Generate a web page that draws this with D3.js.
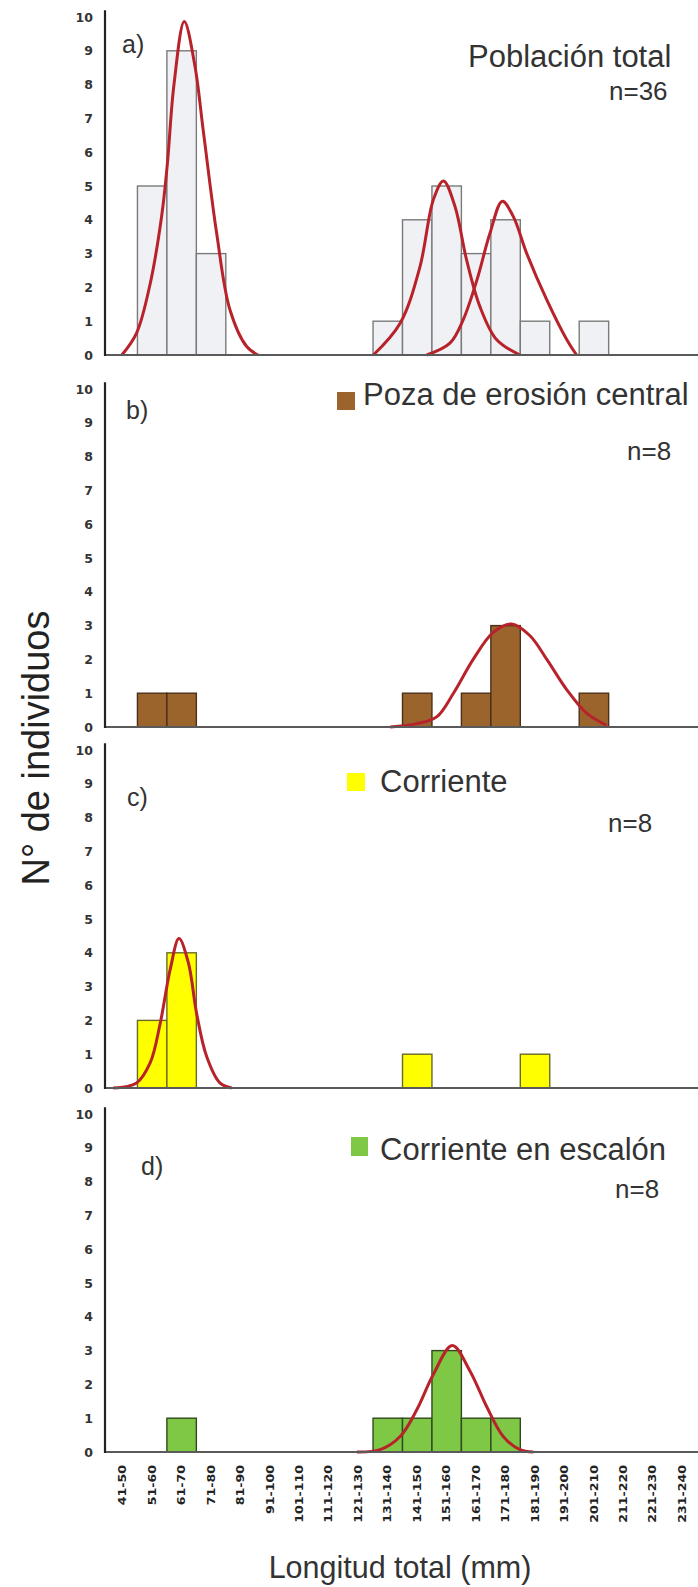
<!DOCTYPE html>
<html>
<head>
<meta charset="utf-8">
<script src="https://cdn.jsdelivr.net/npm/d3@7"></script>
<style>
  html, body { margin: 0; padding: 0; background: #fff; }
  svg { display: block; }
  text { font-family: "Liberation Sans", Arial, sans-serif; }
  .tick text { font-family: "DejaVu Sans", sans-serif; font-weight: bold; }
</style>
</head>
<body>
<svg id="chart" width="698" height="1587"></svg>
<script>
'use strict';

// size classes (mm)
const bins = ['41-50', '51-60', '61-70', '71-80', '81-90', '91-100', '101-110', '111-120',
    '121-130', '131-140', '141-150', '151-160', '161-170', '171-180', '181-190', '191-200',
    '201-210', '211-220', '221-230', '231-240'];

const totalCounts     = [0, 5, 9, 3, 0, 0, 0, 0, 0, 1, 4, 5, 3, 4, 1, 0, 1, 0, 0, 0];
const pozaCounts      = [0, 1, 1, 0, 0, 0, 0, 0, 0, 0, 1, 0, 1, 3, 0, 0, 1, 0, 0, 0];
const corrienteCounts = [0, 2, 4, 0, 0, 0, 0, 0, 0, 0, 1, 0, 0, 0, 1, 0, 0, 0, 0, 0];
const escalonCounts   = [0, 0, 1, 0, 0, 0, 0, 0, 0, 1, 1, 3, 1, 1, 0, 0, 0, 0, 0, 0];

// fitted curves: [length mm, individuals]
const totalCurve1 = [[45.2, 0], [50.2, 0.65], [54.8, 2.1], [58.7, 4.1], [60.6, 5.6], [62.9, 8.0],
    [66.4, 9.87], [70.0, 8.56], [72.9, 6.6], [77.4, 3.6], [81.9, 1.34], [87.6, 0.25], [91.5, 0]];
const totalCurve2 = [[130.6, 0], [139.7, 0.94], [146.4, 2.6], [151.0, 4.6], [154.4, 5.15],
    [158.3, 4.4], [162.3, 2.8], [166.8, 1.43], [172.5, 0.45], [180.4, 0]];
const totalCurve3 = [[148.7, 0], [156.6, 0.35], [161.1, 1.04], [165.7, 2.2], [170.2, 3.6],
    [174.4, 4.55], [178.1, 4.1], [182.7, 3.0], [189.5, 1.63], [196.3, 0.45], [199.6, 0]];
const pozaCurve = [[136.3, 0], [145.3, 0.1], [152.1, 0.3], [157.8, 1.0], [164.5, 2.0], [171.3, 2.8],
    [177.6, 3.05], [183.8, 2.7], [189.5, 2.0], [196.3, 1.1], [203.1, 0.4], [209.8, 0.05]];
const corrienteCurve = [[42.3, 0], [50.2, 0.15], [54.8, 0.74], [58.2, 1.9], [61.6, 3.5], [64.6, 4.42],
    [67.8, 3.7], [70.6, 2.2], [74.0, 0.93], [78.5, 0.15], [82.5, 0]];
const escalonCurve = [[125.0, 0], [132.9, 0.07], [139.7, 0.46], [145.3, 1.24], [151.0, 2.3],
    [157.4, 3.15], [163.4, 2.4], [169.1, 1.34], [174.7, 0.46], [180.4, 0.07], [184.9, 0]];

const panelTags = ['a)', 'b)', 'c)', 'd)'];
const panelNames = ['Población total', 'Poza de erosión central', 'Corriente', 'Corriente en escalón'];
const panelN = ['n=36', 'n=8', 'n=8', 'n=8'];

const AXIS_X = 105;
const UNIT = 33.8;

const panels = [
    {counts: totalCounts, curves: [totalCurve1, totalCurve2, totalCurve3], base: 355,
        fill: '#f0f1f4', stroke: '#7a7a7a', swatch: null,
        tag: [122, 53], name: [468, 67], n: [609, 100]},
    {counts: pozaCounts, curves: [pozaCurve], base: 727,
        fill: '#9b642c', stroke: '#4a3018', swatch: [337, 392, 18, 18],
        tag: [126, 419], name: [363, 405], n: [627, 460]},
    {counts: corrienteCounts, curves: [corrienteCurve], base: 1088,
        fill: '#ffff00', stroke: '#6a6a28', swatch: [347, 773, 18, 18],
        tag: [127, 806], name: [380, 792], n: [608, 832]},
    {counts: escalonCounts, curves: [escalonCurve], base: 1452,
        fill: '#7ec846', stroke: '#2e4a1e', swatch: [351, 1137, 17, 19],
        tag: [141, 1175], name: [380, 1160], n: [615, 1198]}
];

const svg = d3.select('#chart');

const x = d3.scaleBand()
    .domain(bins)
    .range([108, 697])
    .padding(0);

const xmm = d3.scaleLinear()
    .domain([40.5, 240.5])
    .range([108, 697]);

panels.forEach(function(p, i) {
    const y = d3.scaleLinear()
        .domain([0, 10])
        .range([p.base, p.base - 10 * UNIT]);

    const g = svg.append('g').attr('class', 'panel');

    // bars
    g.append('g').selectAll('rect')
        .data(bins.map(function(b, k) { return {bin: b, v: p.counts[k]}; })
            .filter(function(d) { return d.v > 0; }))
        .enter().append('rect')
        .attr('x', function(d) { return x(d.bin); })
        .attr('y', function(d) { return y(d.v); })
        .attr('width', x.bandwidth())
        .attr('height', function(d) { return y(0) - y(d.v); })
        .attr('fill', p.fill)
        .attr('stroke', p.stroke)
        .attr('stroke-width', 1.4);

    // fitted curves
    const line = d3.line()
        .x(function(d) { return xmm(d[0]); })
        .y(function(d) { return y(d[1]); })
        .curve(d3.curveCatmullRom.alpha(0.5));
    g.append('g').selectAll('path')
        .data(p.curves)
        .enter().append('path')
        .attr('d', line)
        .attr('fill', 'none')
        .attr('stroke', '#b8232b')
        .attr('stroke-width', 3);

    // x baseline
    g.append('line')
        .attr('x1', AXIS_X).attr('x2', 698)
        .attr('y1', y(0)).attr('y2', y(0))
        .attr('stroke', '#5a5a5a')
        .attr('stroke-width', 2);

    // y axis
    const yAxis = d3.axisLeft(y)
        .tickValues(d3.range(0, 11))
        .tickSize(0)
        .tickPadding(12);
    const ya = g.append('g')
        .attr('transform', 'translate(' + AXIS_X + ',0)')
        .call(yAxis);
    ya.select('.domain').remove();
    ya.selectAll('.tick text')
        .style('font-size', '12.5px')
        .attr('fill', '#333');
    g.append('line')
        .attr('x1', AXIS_X).attr('x2', AXIS_X)
        .attr('y1', y(10.2)).attr('y2', y(0) + 1)
        .attr('stroke', '#222')
        .attr('stroke-width', 2.2);

    // panel tag
    g.append('text')
        .attr('x', p.tag[0]).attr('y', p.tag[1])
        .attr('font-size', 25)
        .attr('fill', '#333')
        .text(panelTags[i]);

    // legend
    if (p.swatch) {
        g.append('rect')
            .attr('x', p.swatch[0]).attr('y', p.swatch[1])
            .attr('width', p.swatch[2]).attr('height', p.swatch[3])
            .attr('fill', p.fill);
    }
    g.append('text')
        .attr('x', p.name[0]).attr('y', p.name[1])
        .attr('font-size', 31)
        .attr('fill', '#333')
        .text(panelNames[i]);
    g.append('text')
        .attr('x', p.n[0]).attr('y', p.n[1])
        .attr('font-size', 26)
        .attr('fill', '#333')
        .text(panelN[i]);

    // x labels only under the last panel
    if (i === panels.length - 1) {
        const xa = g.append('g')
            .attr('transform', 'translate(0,' + y(0) + ')')
            .call(d3.axisBottom(x).tickSize(0));
        xa.select('.domain').remove();
        xa.selectAll('.tick text')
            .style('font-size', '10.5px')
            .attr('fill', '#222')
            .attr('text-anchor', 'end')
            .attr('dy', null)
            .attr('y', null)
            .attr('dominant-baseline', 'central')
            .attr('transform', 'translate(0,13) rotate(-90) scale(1.2,1)');
    }
});

// axis titles
svg.append('text')
    .attr('transform', 'translate(49,748) rotate(-90)')
    .attr('text-anchor', 'middle')
    .attr('font-size', 38)
    .attr('fill', '#222')
    .text('N° de individuos');

svg.append('text')
    .attr('x', 400).attr('y', 1578)
    .attr('text-anchor', 'middle')
    .attr('font-size', 30.5)
    .attr('fill', '#333')
    .text('Longitud total (mm)');
</script>
</body>
</html>
